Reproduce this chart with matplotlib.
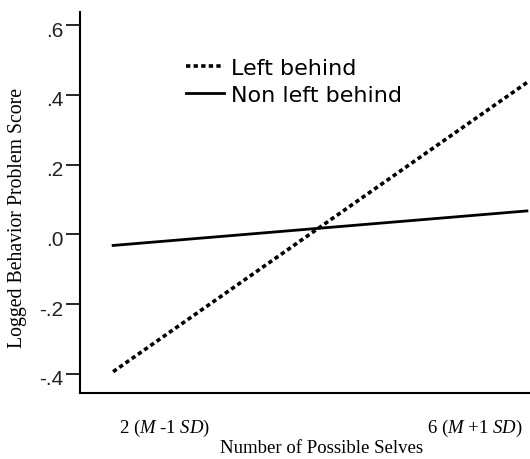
import matplotlib.pyplot as plt
import matplotlib.transforms as mtransforms

# x positions of the two ends of each simple slope (possible-selves count)
line_x = [1.33, 6.67]
left_behind = [-0.394, 0.435]
non_left_behind = [-0.032, 0.067]

xtick_pos = [2, 6]
xtick_labels = ['2 ($\\mathit{M}$ -1 $\\mathit{SD}$)', '6 ($\\mathit{M}$ +1 $\\mathit{SD}$)']
ytick_pos = [-0.4, -0.2, 0.0, 0.2, 0.4, 0.6]
ytick_labels = ['-.4', '-.2', '.0', '.2', '.4', '.6']

plt.rcParams['mathtext.fontset'] = 'custom'
plt.rcParams['mathtext.rm'] = 'Liberation Serif'
plt.rcParams['mathtext.it'] = 'Liberation Serif:italic'

fig = plt.figure(figsize=(5.3, 4.6), dpi=100)
ax = fig.add_axes([0.151, 0.1435, 0.849, 0.828])

ax.plot(line_x, left_behind, color='black', lw=2.6, linestyle=(0, (1.2, 0.9)),
        label='Left behind')
ax.plot(line_x, non_left_behind, color='black', lw=2.0, label='Non left behind')

ax.set_xlim(0.903, 6.71)
ax.set_ylim(-0.455, 0.637)

ax.spines['top'].set_visible(False)
ax.spines['right'].set_visible(False)
ax.spines['left'].set_linewidth(1.5)
ax.spines['bottom'].set_linewidth(1.5)

ax.set_yticks(ytick_pos)
ax.set_yticklabels(ytick_labels, fontfamily='Liberation Sans', fontsize=15, color='#222222')
ax.tick_params(axis='y', length=10, width=1.2, pad=2)
# the tick labels sit a little below their ticks in the original
shift = mtransforms.ScaledTranslation(0, -3 / 100, fig.dpi_scale_trans)
for lbl in ax.get_yticklabels():
    lbl.set_transform(lbl.get_transform() + shift)

ax.set_xticks(xtick_pos)
ax.set_xticklabels(xtick_labels, fontfamily='Liberation Serif', fontsize=13.5)
ax.tick_params(axis='x', length=0, pad=17)

ax.set_xlabel('Number of Possible Selves', fontfamily='Liberation Serif', fontsize=13.5)
ax.xaxis.set_label_coords(0.536, -0.122)
ax.set_ylabel('Logged Behavior Problem Score', fontfamily='Liberation Serif', fontsize=14.2)
ax.yaxis.set_label_coords(-0.117, 0.462)

leg = fig.legend(loc='upper left', bbox_to_anchor=(186 / 530, 1 - 59 / 460), frameon=False,
                 prop={'family': 'DejaVu Sans', 'size': 16}, handlelength=1.7,
                 handletextpad=0.33, labelspacing=0.32, borderpad=0, borderaxespad=0)

fig.savefig('out.png', dpi=100)
